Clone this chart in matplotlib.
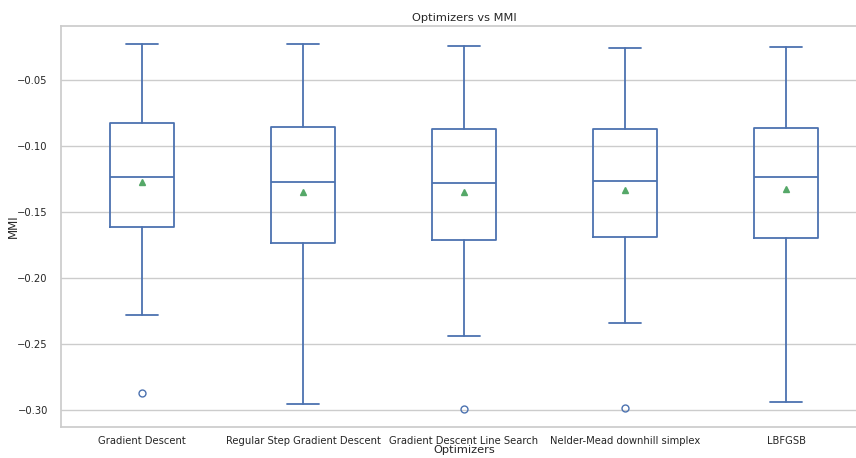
import matplotlib
matplotlib.use("Agg")
import matplotlib.pyplot as plt
import seaborn as sns

sns.set_theme(style="whitegrid")
plt.rcParams["font.family"] = ["DejaVu Sans"]

optimizers = ["Gradient Descent", "Regular Step Gradient Descent",
              "Gradient Descent Line Search", "Nelder-Mead downhill simplex", "LBFGSB"]
whisker_high = [-0.0227, -0.0227, -0.0242, -0.0258, -0.0250]
q3 = [-0.0826, -0.0856, -0.0871, -0.0871, -0.0864]
median = [-0.1235, -0.1273, -0.1280, -0.1265, -0.1235]
mean = [-0.1273, -0.1348, -0.1348, -0.1333, -0.1326]
q1 = [-0.1614, -0.1735, -0.1712, -0.1689, -0.1697]
whisker_low = [-0.2280, -0.2955, -0.2439, -0.2341, -0.2940]
outliers = [[-0.2871], [], [-0.2992], [-0.2985], []]

stats = []
for i, name in enumerate(optimizers):
    stats.append(dict(label=name, whishi=whisker_high[i], q3=q3[i], med=median[i],
                      mean=mean[i], q1=q1[i], whislo=whisker_low[i], fliers=outliers[i]))

fig = plt.figure(figsize=(8.56, 4.58), dpi=100)
ax = fig.add_axes([61 / 856, 1 - 427 / 458, 806 / 856, 401 / 458])

blue = "#4c72b0"
ax.bxp(stats, showmeans=True, widths=0.4,
       boxprops=dict(color=blue, linewidth=1.3),
       whiskerprops=dict(color=blue, linewidth=1.3),
       capprops=dict(color=blue, linewidth=1.3),
       medianprops=dict(color=blue, linewidth=1.3),
       meanprops=dict(marker="^", markerfacecolor="#55a868", markeredgecolor="#55a868", markersize=5),
       flierprops=dict(marker="o", markerfacecolor="none", markeredgecolor=blue, markersize=5))

ax.set_xlim(0.497, 5.503)
ax.set_ylim(-0.3129, -0.0091)
ax.set_yticks([-0.30, -0.25, -0.20, -0.15, -0.10, -0.05])
ax.tick_params(axis="both", labelsize=7.2)
ax.tick_params(axis="x", pad=0.8)
ax.xaxis.grid(False)
ax.set_title("Optimizers vs MMI", fontsize=8.2, pad=3.8)
ax.set_xlabel("Optimizers", fontsize=8.2, labelpad=-0.8)
ax.set_ylabel("MMI", fontsize=8.5, labelpad=-2)

fig.savefig("out.png", dpi=100)
